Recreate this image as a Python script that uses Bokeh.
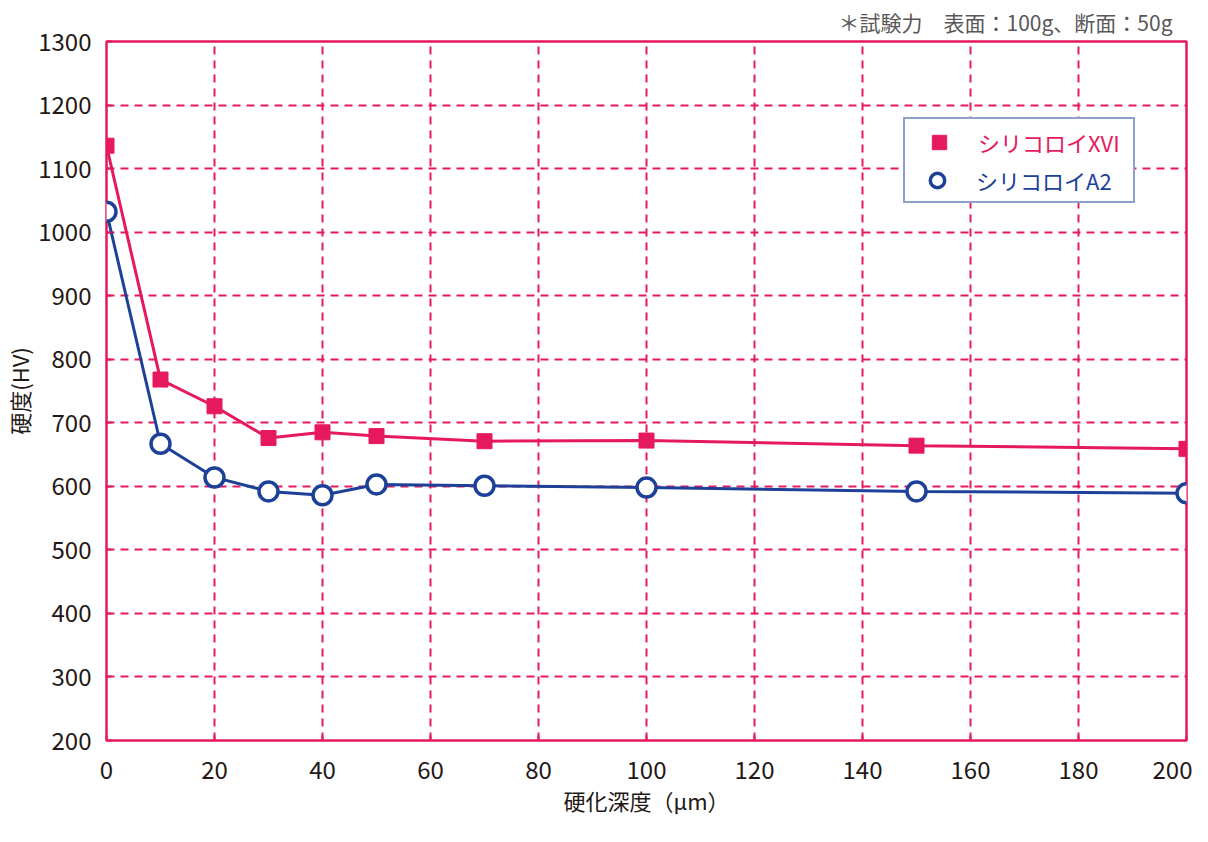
from bokeh.plotting import figure
from bokeh.models import Legend, LegendItem, Range1d, FixedTicker
from bokeh.embed import file_html
from bokeh.resources import INLINE

depth = [0, 10, 20, 30, 40, 50, 70, 100, 150, 200]
xvi = [1136, 768, 726, 676, 685, 679, 671, 672, 664, 659]
a2 = [1032, 667, 614, 592, 586, 603, 601, 598, 592, 589]
x_ticks = [0, 20, 40, 60, 80, 100, 120, 140, 160, 180, 200]
y_ticks = [200, 300, 400, 500, 600, 700, 800, 900, 1000, 1100, 1200, 1300]
name_xvi = "シリコロイXVI"
name_a2 = "シリコロイA2"
note = "＊試験力　表面：100g、断面：50g"
x_label = "硬化深度（μm）"
y_label = "硬度(HV)"

PINK = "#E6195E"
BLUE = "#1D4198"
TXT = "#231815"
FONT = "Noto Sans CJK JP"

p = figure(width=1192, height=826, output_backend="svg", toolbar_location=None,
           x_range=Range1d(0, 200), y_range=Range1d(200, 1300),
           min_border_left=100, min_border_right=6, min_border_top=35, min_border_bottom=86)

p.title.text = note
p.title.align = "right"
p.title.text_font = FONT
p.title.text_font_size = "21px"
p.title.text_font_style = "normal"
p.title.text_color = "#595757"
p.title.offset = 14
p.title.standoff = 9

p.outline_line_color = PINK
p.outline_line_width = 2.5
p.background_fill_color = "white"
p.border_fill_color = "white"

for ax, ticks in ((p.xaxis[0], x_ticks), (p.yaxis[0], y_ticks)):
    ax.ticker = FixedTicker(ticks=ticks)
    ax.axis_line_color = None
    ax.major_tick_in = 5
    ax.major_tick_out = 0
    ax.major_tick_line_color = PINK
    ax.major_tick_line_width = 2
    ax.minor_tick_line_color = None
    ax.major_label_text_font = FONT
    ax.major_label_text_font_size = "24px"
    ax.major_label_text_color = TXT
    ax.axis_label_text_font = FONT
    ax.axis_label_text_font_size = "22px"
    ax.axis_label_text_font_style = "normal"
    ax.axis_label_text_color = TXT

p.xaxis.axis_label = x_label
p.yaxis.axis_label = y_label
p.xaxis.major_label_standoff = 20
p.yaxis.major_label_standoff = 15
p.xaxis.axis_label_standoff = 2
p.yaxis.axis_label_standoff = 0

for g in (p.xgrid[0], p.ygrid[0]):
    g.grid_line_color = PINK
    g.grid_line_width = 2
    g.grid_line_dash = "8 6"

p.line(depth, xvi, line_color=PINK, line_width=3)
r1 = p.scatter(depth, xvi, marker="square", size=15, fill_color=PINK, line_color=PINK)
p.line(depth, a2, line_color=BLUE, line_width=3)
r2 = p.scatter(depth, a2, marker="circle", size=19, fill_color="white", line_color=BLUE, line_width=3.5)

PAD = 5
GH = 36
LX, LY = 797, 537
common = dict(orientation="vertical", margin=0, spacing=0,
              glyph_width=58, glyph_height=GH, label_height=GH, label_width=150,
              label_standoff=10, label_text_font=FONT, label_text_font_size="22px",
              background_fill_color="white", background_fill_alpha=1)
legA = Legend(items=[LegendItem(label=name_xvi, renderers=[r1]),
                     LegendItem(label=name_a2, renderers=[r2])],
              location=(LX, LY), padding=PAD, label_text_color=PINK,
              border_line_color=BLUE, border_line_width=2.5, **common)
legB = Legend(items=[LegendItem(label=name_a2, renderers=[r2])],
              location=(LX + PAD, LY + PAD), padding=0, label_text_color=BLUE,
              border_line_color=None, **common)
p.add_layout(legA, "center")
p.add_layout(legB, "center")

open("out.html", "w").write(file_html(p, INLINE))
